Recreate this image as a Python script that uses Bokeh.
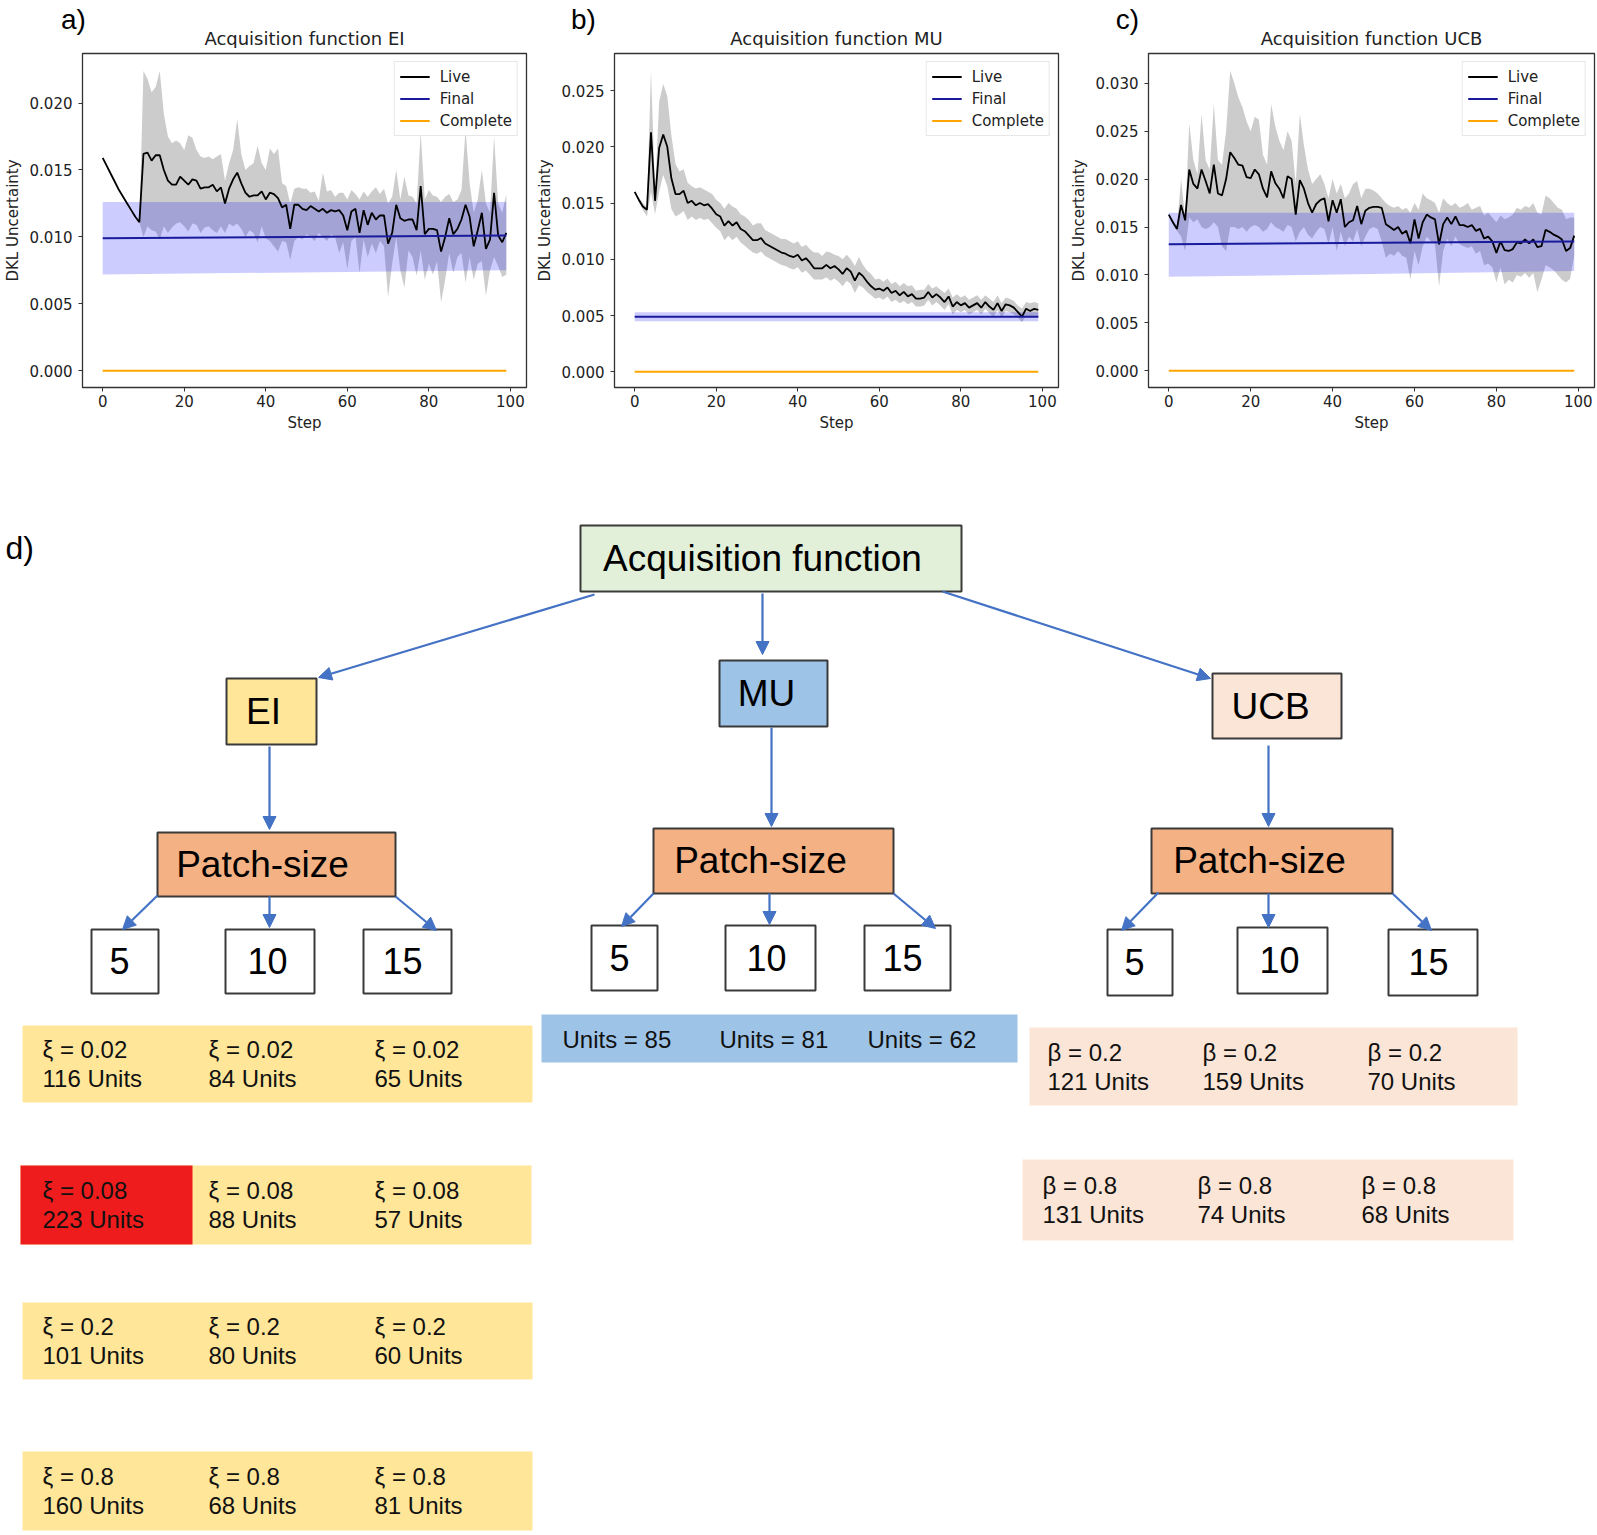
from bokeh.plotting import figure
from bokeh.models import (Range1d, FixedTicker, PrintfTickFormatter, Legend, LegendItem,
                          Arrow, NormalHead, ColumnDataSource)
from bokeh.layouts import column, row
from bokeh.embed import file_html
from bokeh.resources import INLINE
from bokeh.core.properties import value

# ---------------------------------------------------------------- data (charts)
steps = list(range(100))
final_steps = [0, 99]
complete = [0.0, 0.0]

ei_live = [0.0159, 0.0153, 0.0147, 0.0141, 0.0135, 0.0130, 0.0125, 0.0120, 0.0115, 0.0111,
           0.0162, 0.0163, 0.0157, 0.0161, 0.0161, 0.0150, 0.0142, 0.0139, 0.0139, 0.0145,
           0.0142, 0.0139, 0.0143, 0.0142, 0.0136, 0.0137, 0.0137, 0.0139, 0.0134, 0.0137,
           0.0125, 0.0136, 0.0143, 0.0148, 0.0140, 0.0133, 0.0130, 0.0131, 0.0131, 0.0134,
           0.0128, 0.0133, 0.0132, 0.0129, 0.0122, 0.0124, 0.0106, 0.0124, 0.0124, 0.0121,
           0.0120, 0.0123, 0.0121, 0.0119, 0.0121, 0.0118, 0.0120, 0.0119, 0.0120, 0.0116,
           0.0105, 0.0119, 0.0121, 0.0103, 0.0120, 0.0109, 0.0118, 0.0113, 0.0116, 0.0116,
           0.0095, 0.0103, 0.0124, 0.0114, 0.0112, 0.0113, 0.0113, 0.0105, 0.0138, 0.0102,
           0.0106, 0.0106, 0.0105, 0.0089, 0.0100, 0.0114, 0.0102, 0.0106, 0.0113, 0.0124,
           0.0115, 0.0093, 0.0105, 0.0118, 0.0091, 0.0098, 0.0133, 0.0101, 0.0096, 0.0103]
ei_upper = [0.0159, 0.0153, 0.0147, 0.0141, 0.0135, 0.0130, 0.0125, 0.0120, 0.0115, 0.0111,
            0.0224, 0.0218, 0.0208, 0.0212, 0.0224, 0.0192, 0.0175, 0.0170, 0.0172, 0.0170,
            0.0165, 0.0176, 0.0174, 0.0165, 0.0160, 0.0159, 0.0160, 0.0158, 0.0160, 0.0162,
            0.0142, 0.0155, 0.0165, 0.0188, 0.0162, 0.0150, 0.0153, 0.0155, 0.0168, 0.0155,
            0.0150, 0.0166, 0.0162, 0.0166, 0.0140, 0.0138, 0.0125, 0.0136, 0.0137, 0.0136,
            0.0136, 0.0133, 0.0134, 0.0127, 0.0148, 0.0134, 0.0135, 0.0130, 0.0133, 0.0133,
            0.0128, 0.0135, 0.0132, 0.0128, 0.0134, 0.0130, 0.0134, 0.0137, 0.0132, 0.0136,
            0.0125, 0.0130, 0.0150, 0.0128, 0.0145, 0.0131, 0.0130, 0.0125, 0.0178, 0.0128,
            0.0135, 0.0131, 0.0130, 0.0126, 0.0130, 0.0132, 0.0126, 0.0128, 0.0135, 0.0180,
            0.0140, 0.0118, 0.0128, 0.0150, 0.0125, 0.0118, 0.0175, 0.0125, 0.0118, 0.0132]
ei_lower = [0.0159, 0.0153, 0.0147, 0.0141, 0.0135, 0.0130, 0.0125, 0.0120, 0.0115, 0.0111,
            0.0100, 0.0108, 0.0105, 0.0104, 0.0098, 0.0108, 0.0103, 0.0107, 0.0110, 0.0111,
            0.0108, 0.0104, 0.0110, 0.0109, 0.0103, 0.0107, 0.0108, 0.0105, 0.0103, 0.0108,
            0.0103, 0.0110, 0.0108, 0.0110, 0.0106, 0.0100, 0.0105, 0.0103, 0.0096, 0.0108,
            0.0099, 0.0097, 0.0093, 0.0089, 0.0097, 0.0096, 0.0083, 0.0097, 0.0100, 0.0098,
            0.0102, 0.0100, 0.0097, 0.0103, 0.0100, 0.0097, 0.0102, 0.0100, 0.0088, 0.0096,
            0.0076, 0.0097, 0.0100, 0.0073, 0.0098, 0.0085, 0.0095, 0.0088, 0.0097, 0.0093,
            0.0055, 0.0080, 0.0100, 0.0075, 0.0062, 0.0090, 0.0085, 0.0071, 0.0090, 0.0068,
            0.0080, 0.0072, 0.0082, 0.0051, 0.0068, 0.0088, 0.0073, 0.0085, 0.0088, 0.0066,
            0.0085, 0.0068, 0.0080, 0.0082, 0.0056, 0.0075, 0.0085, 0.0078, 0.0070, 0.0072]
ei_final_mean = [0.0099, 0.0101]
ei_final_lo = [0.0072, 0.0075]
ei_final_hi = [0.0126, 0.0126]

mu_live = [0.0160, 0.0153, 0.0147, 0.0144, 0.0213, 0.0152, 0.0199, 0.0211, 0.0200, 0.0172,
           0.0158, 0.0158, 0.0161, 0.0150, 0.0152, 0.0148, 0.0150, 0.0148, 0.0149, 0.0145,
           0.0140, 0.0138, 0.0130, 0.0134, 0.0130, 0.0133, 0.0127, 0.0125, 0.0121, 0.0117,
           0.0117, 0.0119, 0.0114, 0.0112, 0.0110, 0.0108, 0.0106, 0.0105, 0.0103, 0.0102,
           0.0104, 0.0099, 0.0101, 0.0097, 0.0092, 0.0092, 0.0092, 0.0095, 0.0092, 0.0094,
           0.0091, 0.0087, 0.0092, 0.0089, 0.0081, 0.0088, 0.0085, 0.0080, 0.0076, 0.0073,
           0.0074, 0.0072, 0.0075, 0.0070, 0.0072, 0.0068, 0.0071, 0.0067, 0.0069, 0.0065,
           0.0065, 0.0066, 0.0071, 0.0066, 0.0069, 0.0066, 0.0062, 0.0067, 0.0058, 0.0062,
           0.0059, 0.0061, 0.0057, 0.0059, 0.0061, 0.0057, 0.0062, 0.0058, 0.0055, 0.0061,
           0.0054, 0.0060, 0.0059, 0.0057, 0.0053, 0.0049, 0.0056, 0.0054, 0.0056, 0.0055]
mu_upper = [0.0160, 0.0155, 0.0150, 0.0146, 0.0268, 0.0160, 0.0240, 0.0256, 0.0245, 0.0210,
            0.0185, 0.0178, 0.0180, 0.0168, 0.0165, 0.0163, 0.0164, 0.0162, 0.0160, 0.0158,
            0.0153, 0.0150, 0.0145, 0.0150, 0.0147, 0.0145, 0.0140, 0.0138, 0.0135, 0.0130,
            0.0132, 0.0132, 0.0126, 0.0124, 0.0122, 0.0120, 0.0118, 0.0118, 0.0116, 0.0114,
            0.0116, 0.0111, 0.0113, 0.0109, 0.0106, 0.0106, 0.0103, 0.0107, 0.0106, 0.0104,
            0.0103, 0.0100, 0.0104, 0.0100, 0.0094, 0.0102, 0.0095, 0.0090, 0.0087, 0.0082,
            0.0083, 0.0080, 0.0083, 0.0078, 0.0080, 0.0076, 0.0079, 0.0076, 0.0077, 0.0072,
            0.0073, 0.0073, 0.0078, 0.0074, 0.0076, 0.0073, 0.0070, 0.0074, 0.0066, 0.0069,
            0.0066, 0.0068, 0.0064, 0.0066, 0.0068, 0.0064, 0.0068, 0.0065, 0.0062, 0.0068,
            0.0061, 0.0066, 0.0065, 0.0063, 0.0059, 0.0056, 0.0062, 0.0061, 0.0062, 0.0061]
mu_lower = [0.0160, 0.0151, 0.0144, 0.0138, 0.0160, 0.0140, 0.0160, 0.0175, 0.0165, 0.0145,
            0.0138, 0.0140, 0.0143, 0.0135, 0.0138, 0.0135, 0.0137, 0.0135, 0.0136, 0.0132,
            0.0128, 0.0125, 0.0117, 0.0121, 0.0117, 0.0120, 0.0115, 0.0112, 0.0109, 0.0106,
            0.0105, 0.0107, 0.0103, 0.0101, 0.0099, 0.0097, 0.0095, 0.0094, 0.0092, 0.0091,
            0.0093, 0.0088, 0.0090, 0.0086, 0.0082, 0.0082, 0.0082, 0.0084, 0.0081, 0.0083,
            0.0080, 0.0076, 0.0081, 0.0078, 0.0070, 0.0077, 0.0075, 0.0071, 0.0068, 0.0065,
            0.0066, 0.0064, 0.0067, 0.0062, 0.0064, 0.0061, 0.0063, 0.0060, 0.0062, 0.0058,
            0.0058, 0.0059, 0.0064, 0.0059, 0.0062, 0.0059, 0.0055, 0.0060, 0.0051, 0.0055,
            0.0053, 0.0055, 0.0051, 0.0053, 0.0055, 0.0051, 0.0056, 0.0052, 0.0049, 0.0055,
            0.0048, 0.0054, 0.0053, 0.0051, 0.0048, 0.0044, 0.0050, 0.0048, 0.0050, 0.0049]
mu_final_mean = [0.0049, 0.0049]
mu_final_lo = [0.0045, 0.0045]
mu_final_hi = [0.0053, 0.0053]

ucb_live = [0.0163, 0.0155, 0.0148, 0.0173, 0.0157, 0.0210, 0.0195, 0.0190, 0.0210, 0.0198,
            0.0185, 0.0215, 0.0185, 0.0183, 0.0200, 0.0228, 0.0222, 0.0215, 0.0214, 0.0202,
            0.0201, 0.0210, 0.0205, 0.0190, 0.0181, 0.0208, 0.0196, 0.0190, 0.0180, 0.0203,
            0.0200, 0.0163, 0.0199, 0.0190, 0.0175, 0.0165, 0.0174, 0.0178, 0.0180, 0.0156,
            0.0178, 0.0165, 0.0179, 0.0150, 0.0155, 0.0157, 0.0172, 0.0153, 0.0167, 0.0170,
            0.0171, 0.0171, 0.0170, 0.0153, 0.0150, 0.0147, 0.0150, 0.0143, 0.0146, 0.0133,
            0.0158, 0.0138, 0.0155, 0.0163, 0.0160, 0.0158, 0.0132, 0.0153, 0.0160, 0.0153,
            0.0161, 0.0152, 0.0152, 0.0150, 0.0152, 0.0146, 0.0148, 0.0138, 0.0140, 0.0135,
            0.0123, 0.0135, 0.0126, 0.0125, 0.0127, 0.0134, 0.0133, 0.0137, 0.0133, 0.0137,
            0.0129, 0.0130, 0.0147, 0.0145, 0.0142, 0.0140, 0.0137, 0.0125, 0.0128, 0.0141]
ucb_upper = [0.0163, 0.0157, 0.0150, 0.0200, 0.0160, 0.0258, 0.0220, 0.0205, 0.0268, 0.0220,
             0.0210, 0.0278, 0.0220, 0.0215, 0.0250, 0.0313, 0.0300, 0.0285, 0.0275, 0.0260,
             0.0250, 0.0265, 0.0262, 0.0225, 0.0215, 0.0278, 0.0255, 0.0240, 0.0230, 0.0250,
             0.0240, 0.0195, 0.0268, 0.0235, 0.0210, 0.0195, 0.0200, 0.0205, 0.0195, 0.0180,
             0.0200, 0.0185, 0.0195, 0.0180, 0.0185, 0.0195, 0.0198, 0.0180, 0.0190, 0.0190,
             0.0188, 0.0185, 0.0180, 0.0175, 0.0172, 0.0170, 0.0172, 0.0168, 0.0170, 0.0165,
             0.0175, 0.0168, 0.0185, 0.0180, 0.0178, 0.0175, 0.0165, 0.0180, 0.0175, 0.0172,
             0.0175, 0.0170, 0.0172, 0.0175, 0.0168, 0.0170, 0.0172, 0.0162, 0.0165, 0.0160,
             0.0155, 0.0162, 0.0158, 0.0160, 0.0163, 0.0170, 0.0168, 0.0172, 0.0170, 0.0175,
             0.0165, 0.0163, 0.0183, 0.0180, 0.0175, 0.0170, 0.0168, 0.0158, 0.0160, 0.0160]
ucb_lower = [0.0163, 0.0153, 0.0146, 0.0140, 0.0125, 0.0160, 0.0155, 0.0158, 0.0150, 0.0148,
             0.0150, 0.0155, 0.0150, 0.0130, 0.0125, 0.0150, 0.0150, 0.0148, 0.0150, 0.0145,
             0.0150, 0.0152, 0.0150, 0.0145, 0.0148, 0.0155, 0.0150, 0.0148, 0.0145, 0.0152,
             0.0150, 0.0135, 0.0145, 0.0150, 0.0142, 0.0138, 0.0145, 0.0150, 0.0148, 0.0132,
             0.0150, 0.0125, 0.0145, 0.0130, 0.0140, 0.0135, 0.0148, 0.0130, 0.0140, 0.0148,
             0.0150, 0.0148, 0.0135, 0.0118, 0.0122, 0.0120, 0.0125, 0.0120, 0.0118, 0.0095,
             0.0125, 0.0110, 0.0130, 0.0140, 0.0135, 0.0132, 0.0088, 0.0125, 0.0138, 0.0130,
             0.0140, 0.0132, 0.0130, 0.0128, 0.0130, 0.0122, 0.0125, 0.0110, 0.0112, 0.0108,
             0.0092, 0.0108, 0.0090, 0.0095, 0.0092, 0.0100, 0.0098, 0.0102, 0.0097, 0.0102,
             0.0082, 0.0095, 0.0110, 0.0108, 0.0105, 0.0100, 0.0095, 0.0092, 0.0096, 0.0120]
ucb_final_mean = [0.0132, 0.0135]
ucb_final_lo = [0.0098, 0.0104]
ucb_final_hi = [0.0165, 0.0165]

panel_letters = ["a)", "b)", "c)"]
panel_titles = ["Acquisition function EI", "Acquisition function MU", "Acquisition function UCB"]
x_ticks = [0, 20, 40, 60, 80, 100]
ei_yticks = [0.0, 0.005, 0.010, 0.015, 0.020]
mu_yticks = [0.0, 0.005, 0.010, 0.015, 0.020, 0.025]
ucb_yticks = [0.0, 0.005, 0.010, 0.015, 0.020, 0.025, 0.030]
legend_labels = ["Live", "Final", "Complete"]

# ---------------------------------------------------------------- data (diagram)
root_label = "Acquisition function"
acq_functions = ["EI", "MU", "UCB"]
patch_label = "Patch-size"
patch_sizes = ["5", "10", "15"]
ei_xi = ["0.02", "0.08", "0.2", "0.8"]
ei_units = [[116, 84, 65], [223, 88, 57], [101, 80, 60], [160, 68, 81]]
mu_units = [85, 81, 62]
ucb_beta = ["0.2", "0.8"]
ucb_units = [[121, 159, 70], [131, 74, 68]]

CH_FONT = "DejaVu Sans"
DG_FONT = "Liberation Sans"
TXT = "#222222"


def make_panel(live, upper, lower, fmean, flo, fhi, yr, yticks, width, bl, br):
    p = figure(width=width, height=392, x_range=Range1d(-4.95, 103.95), y_range=Range1d(*yr),
               output_backend="svg", toolbar_location=None,
               min_border_left=bl, min_border_right=br, min_border_top=5, min_border_bottom=53)
    p.grid.visible = False
    p.outline_line_color = "#333333"
    p.outline_line_width = 1.3
    p.varea(x=steps, y1=lower, y2=upper, fill_color="gray", fill_alpha=0.4)
    p.varea(x=final_steps, y1=flo, y2=fhi, fill_color="blue", fill_alpha=0.2)
    r_live = p.line(steps, live, line_color="black", line_width=1.8)
    r_final = p.line(final_steps, fmean, line_color="#1a1a9c", line_width=2)
    r_comp = p.line(final_steps, complete, line_color="orange", line_width=2)
    leg = Legend(items=[LegendItem(label=legend_labels[0], renderers=[r_live]),
                        LegendItem(label=legend_labels[1], renderers=[r_final]),
                        LegendItem(label=legend_labels[2], renderers=[r_comp])],
                 location="top_right")
    leg.label_text_font = CH_FONT
    leg.label_text_font_size = "15px"
    leg.label_text_color = TXT
    leg.glyph_width = 30
    leg.glyph_height = 19
    leg.label_height = 19
    leg.label_standoff = 10
    leg.spacing = 3
    leg.padding = 5
    leg.margin = 8
    leg.border_line_color = "#d0d0d0"
    leg.background_fill_alpha = 0.85
    p.add_layout(leg)
    xa = p.xaxis[0]
    ya = p.yaxis[0]
    xa.ticker = FixedTicker(ticks=x_ticks)
    ya.ticker = FixedTicker(ticks=yticks)
    ya.formatter = PrintfTickFormatter(format="%.3f")
    xa.axis_label = "Step"
    ya.axis_label = "DKL Uncertainty"
    for ax in (xa, ya):
        ax.major_label_text_font = CH_FONT
        ax.major_label_text_font_size = "15px"
        ax.major_label_text_color = TXT
        ax.axis_label_text_font = CH_FONT
        ax.axis_label_text_font_size = "15px"
        ax.axis_label_text_font_style = "normal"
        ax.axis_label_text_color = TXT
        ax.minor_tick_line_color = None
        ax.major_tick_in = 0
        ax.major_tick_out = 4
        ax.axis_line_color = "#333333"
        ax.major_tick_line_color = "#333333"
    xa.major_label_standoff = 3
    xa.axis_label_standoff = 4
    ya.major_label_standoff = 6
    ya.axis_label_standoff = 5
    return p


fa = make_panel(ei_live, ei_upper, ei_lower, ei_final_mean, ei_final_lo, ei_final_hi,
                (-0.00125, 0.0237), ei_yticks, 532, 82, 6)
fb = make_panel(mu_live, mu_upper, mu_lower, mu_final_mean, mu_final_lo, mu_final_hi,
                (-0.0014, 0.0283), mu_yticks, 534, 82, 8)
fc = make_panel(ucb_live, ucb_upper, ucb_lower, ucb_final_mean, ucb_final_lo, ucb_final_hi,
                (-0.00174, 0.0331), ucb_yticks, 531, 82, 3)

# ---------------------------------------------------------------- header strip
top = figure(width=1597, height=48, x_range=Range1d(0, 1597), y_range=Range1d(48, 0),
             x_axis_location=None, y_axis_location=None, output_backend="svg",
             toolbar_location=None, min_border=0)
top.grid.visible = False
top.outline_line_color = None
top.text(x=[73, 583, 1127], y=[19, 19, 19], text=panel_letters,
         text_font=value(DG_FONT), text_font_size=value("28px"), text_color="black",
         text_align="center", text_baseline="middle")
top.text(x=[304, 836, 1371], y=[38, 38, 38], text=panel_titles,
         text_font=value(CH_FONT), text_font_size=value("18px"), text_color=TXT,
         text_align="center", text_baseline="middle")

# ---------------------------------------------------------------- diagram
d = figure(width=1597, height=1095, x_range=Range1d(0, 1597), y_range=Range1d(1535, 440),
           x_axis_location=None, y_axis_location=None, output_backend="svg",
           toolbar_location=None, min_border=0)
d.grid.visible = False
d.outline_line_color = None

d.text(x=[5], y=[547], text=["d)"], text_font=value(DG_FONT), text_font_size=value("32px"),
       text_color="black", text_align="left", text_baseline="middle")

# value rows (no border)
YEL = "#ffe699"
PEACH = "#fbe5d6"
BLUE = "#9dc3e6"
ei_row_top = [1025, 1165, 1302, 1451]
ei_row_bot = [1102, 1244, 1379, 1530]
d.quad(left=[22, 20, 22, 22], right=[532, 531, 532, 532], top=ei_row_top, bottom=ei_row_bot,
       fill_color=YEL, line_color=None)
d.quad(left=[20], right=[192], top=[1165], bottom=[1244], fill_color="#ee1c1c", line_color=None)
d.quad(left=[541], right=[1017], top=[1014], bottom=[1062], fill_color=BLUE, line_color=None)
ucb_row_top = [1027, 1159]
ucb_row_bot = [1105, 1240]
d.quad(left=[1029, 1022], right=[1517, 1513], top=ucb_row_top, bottom=ucb_row_bot,
       fill_color=PEACH, line_color=None)

# nodes
node_left = [580, 226, 719, 1212, 157, 653, 1151]
node_right = [961, 316, 827, 1341, 395, 893, 1392]
node_top = [525, 678, 660, 673, 832, 828, 828]
node_bot = [591, 744, 726, 738, 896, 893, 893]
node_fill = ["#e2f0d9", YEL, BLUE, PEACH, "#f4b183", "#f4b183", "#f4b183"]
d.quad(left=node_left, right=node_right, top=node_top, bottom=node_bot,
       fill_color=node_fill, line_color="#3a3a3a", line_width=2)
node_text = [root_label] + acq_functions + [patch_label] * 3
node_tx = [762, 263, 766, 1270, 262, 760, 1259]
node_ty = [558, 711, 693, 706, 864, 860, 860]
d.text(x=node_tx, y=node_ty, text=node_text, text_font=value(DG_FONT),
       text_font_size=value("37px"), text_color="black", text_align="center",
       text_baseline="middle")

num_left = [91, 225, 363, 591, 725, 864, 1107, 1237, 1388]
num_right = [158, 314, 451, 657, 815, 950, 1172, 1327, 1477]
num_top = [929, 929, 929, 925, 925, 925, 929, 927, 929]
num_bot = [993, 993, 993, 990, 990, 990, 995, 993, 995]
d.quad(left=num_left, right=num_right, top=num_top, bottom=num_bot,
       fill_color="white", line_color="#3a3a3a", line_width=2)
num_tx = [119, 267, 402, 619, 766, 902, 1134, 1279, 1428]
num_ty = [960, 960, 960, 957, 957, 957, 961, 959, 961]
d.text(x=num_tx, y=num_ty, text=patch_sizes * 3, text_font=value(DG_FONT),
       text_font_size=value("36px"), text_color="black", text_align="center",
       text_baseline="middle")

# arrows
arrows = ColumnDataSource(dict(
    x0=[594, 762, 942, 269, 771, 1268, 157, 269, 395, 653, 769, 893, 1158, 1268, 1392],
    y0=[594, 593, 591, 746, 727, 745, 895, 896, 896, 893, 893, 893, 892, 893, 893],
    x1=[318, 762, 1210, 269, 771, 1268, 122, 269, 436, 621, 769, 935, 1121, 1268, 1431],
    y1=[677, 654, 678, 829, 826, 826, 929, 927, 930, 926, 924, 928, 930, 927, 930]))
ACOL = "#4472c4"
d.add_layout(Arrow(x_start="x0", y_start="y0", x_end="x1", y_end="y1", source=arrows,
                   line_color=ACOL, line_width=2.2,
                   end=NormalHead(size=13, fill_color=ACOL, line_color=ACOL, line_width=1)))

# value texts
ei_col_x = [42, 208, 374]
tx, ty, tt = [], [], []
for r, (xi, units) in enumerate(zip(ei_xi, ei_units)):
    cy = (ei_row_top[r] + min(ei_row_bot[r], ei_row_top[r] + 78)) / 2
    for c, u in enumerate(units):
        tx += [ei_col_x[c], ei_col_x[c]]
        ty += [cy - 14.5, cy + 14.5]
        tt += ["ξ = " + xi, f"{u} Units"]
mu_col_x = [562, 719, 867]
for c, u in enumerate(mu_units):
    tx.append(mu_col_x[c])
    ty.append(1039)
    tt.append(f"Units = {u}")
ucb_col_x = [[1047, 1202, 1367], [1042, 1197, 1361]]
for r, (b, units) in enumerate(zip(ucb_beta, ucb_units)):
    cy = (ucb_row_top[r] + ucb_row_bot[r]) / 2
    for c, u in enumerate(units):
        tx += [ucb_col_x[r][c], ucb_col_x[r][c]]
        ty += [cy - 14.5, cy + 14.5]
        tt += ["β = " + b, f"{u} Units"]
d.text(x=tx, y=ty, text=tt, text_font=value(DG_FONT), text_font_size=value("24px"),
       text_color="#111111", text_align="left", text_baseline="middle")

layout = column(top, row(fa, fb, fc), d)
open("out.html", "w").write(file_html(layout, INLINE))
